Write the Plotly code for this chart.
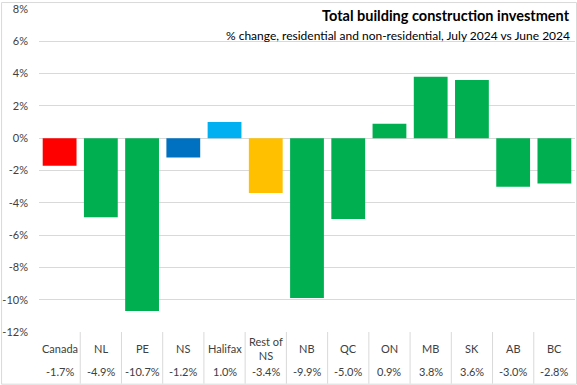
import plotly.graph_objects as go

categories = ["Canada", "NL", "PE", "NS", "Halifax", "Rest of<br>NS", "NB", "QC", "ON", "MB", "SK", "AB", "BC"]
values = [-1.7, -4.9, -10.7, -1.2, 1.0, -3.4, -9.9, -5.0, 0.9, 3.8, 3.6, -3.0, -2.8]
value_labels = ["-1.7%", "-4.9%", "-10.7%", "-1.2%", "1.0%", "-3.4%", "-9.9%", "-5.0%", "0.9%", "3.8%", "3.6%", "-3.0%", "-2.8%"]
colors = ["#FF0000", "#00B050", "#00B050", "#0070C0", "#00B0F0", "#FFC000",
          "#00B050", "#00B050", "#00B050", "#00B050", "#00B050", "#00B050", "#00B050"]
y_ticks = [-12, -10, -8, -6, -4, -2, 0, 2, 4, 6, 8]
y_tick_labels = ["-12%", "-10%", "-8%", "-6%", "-4%", "-2%", "0%", "2%", "4%", "6%", "8%"]

W, H = 577, 385
ml, mr, mt, mb = 38, 2, 7, 53
pw = W - ml - mr
ph = H - mt - mb

FONT = "Lato, 'Liberation Sans', sans-serif"
TXT = "#404040"

fig = go.Figure()
xs = list(range(len(categories)))
fig.add_trace(go.Bar(x=xs, y=values, marker=dict(color=colors, line=dict(width=0)),
                     width=0.82, hoverinfo="skip"))

annotations = []
for i, (c, v) in enumerate(zip(categories, value_labels)):
    annotations.append(dict(x=i, xref="x", y=-17/ph, yref="paper", yanchor="middle",
                            text=c, showarrow=False, font=dict(family=FONT, size=11, color=TXT)))
    annotations.append(dict(x=i, xref="x", y=-40/ph, yref="paper", yanchor="middle",
                            text=v, showarrow=False, font=dict(family=FONT, size=11, color=TXT)))

annotations.append(dict(x=1 - 3/pw, xref="paper", y=(ph + mt - 14) / ph, yref="paper",
                        xanchor="right", yanchor="middle", showarrow=False,
                        text="<b>Total building construction investment</b>",
                        font=dict(family=FONT, size=14.5, color="#000000")))
annotations.append(dict(x=1 - 3/pw, xref="paper", y=(ph + mt - 34) / ph, yref="paper",
                        xanchor="right", yanchor="middle", showarrow=False,
                        text="% change, residential and non-residential, July 2024 vs June 2024",
                        font=dict(family=FONT, size=12, color="#000000")))

shapes = []
for i in range(1, len(categories)):
    shapes.append(dict(type="line", xref="x", yref="paper", x0=i - 0.5, x1=i - 0.5,
                       y0=0, y1=-52/ph, line=dict(color="#D9D9D9", width=1)))
# outer chart border
shapes.append(dict(type="rect", xref="paper", yref="paper",
                   x0=-(ml - 0.5)/pw, x1=(pw + mr - 0.5)/pw,
                   y0=-(mb - 0.5)/ph, y1=(ph + mt - 0.5)/ph,
                   line=dict(color="#D9D9D9", width=1)))

fig.update_layout(
    width=W, height=H,
    margin=dict(l=ml, r=mr, t=mt, b=mb),
    paper_bgcolor="white", plot_bgcolor="white",
    showlegend=False,
    xaxis=dict(range=[-0.5, len(categories) - 0.5], showticklabels=False, showgrid=False,
               zeroline=False, showline=False, fixedrange=True),
    yaxis=dict(range=[-12, 8], tickmode="array", tickvals=y_ticks, ticktext=y_tick_labels,
               showgrid=True, gridcolor="#D9D9D9", gridwidth=1, zeroline=False,
               showline=False, ticks="", ticklabelstandoff=10, ticklabeloverflow="allow",
               tickfont=dict(family=FONT, size=11, color=TXT)),
    annotations=annotations,
    shapes=shapes,
    font=dict(family=FONT),
)

fig.write_html("out.html", config={"displayModeBar": False},
               post_script="document.body.style.margin='0';document.body.style.padding='0';")
